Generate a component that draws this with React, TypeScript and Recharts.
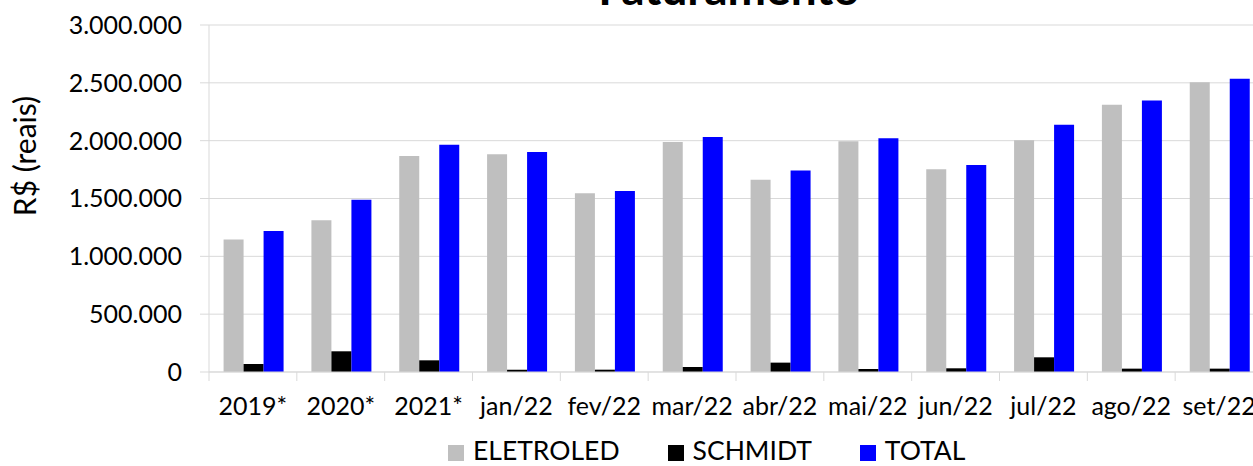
import { BarChart, Bar, XAxis, YAxis, CartesianGrid, Legend } from "recharts";

const categories = ["2019*", "2020*", "2021*", "jan/22", "fev/22", "mar/22", "abr/22", "mai/22", "jun/22", "jul/22", "ago/22", "set/22"];
const eletroled = [1145000, 1311000, 1867000, 1882000, 1545000, 1988000, 1663000, 1994000, 1752000, 2003000, 2311000, 2504000];
const schmidt = [69000, 179000, 101000, 20000, 20000, 43000, 81000, 26000, 32000, 127000, 29000, 29000];
const total = [1220000, 1490000, 1965000, 1901000, 1565000, 2031000, 1741000, 2020000, 1789000, 2138000, 2348000, 2536000];
const yTicks = [0, 500000, 1000000, 1500000, 2000000, 2500000, 3000000];

const data = categories.map((c, i) => ({
  name: c,
  ELETROLED: eletroled[i],
  SCHMIDT: schmidt[i],
  TOTAL: total[i],
}));

const FONT = "Lato, 'Open Sans', sans-serif";
const GRID = "#d9d9d9";

const series = [
  { key: "ELETROLED", color: "#bfbfbf" },
  { key: "SCHMIDT", color: "#000000" },
  { key: "TOTAL", color: "#0000ff" },
];

const fmt = (v: number) => String(v).replace(/\B(?=(\d{3})+(?!\d))/g, ".");

function XTick(props: any) {
  const { x, y, payload } = props;
  const half = payload && payload.offset ? payload.offset : 43.9;
  return (
    <g>
      <line x1={x - half} x2={x - half} y1={y - 9} y2={y} stroke={GRID} />
      <text x={x} y={y + 34} textAnchor="middle" fontSize={25} fontFamily={FONT} fill="#000">
        {payload.value}
      </text>
    </g>
  );
}

function LegendBox() {
  return (
    <div style={{ display: "flex", height: 37, boxSizing: "border-box", paddingTop: 5, fontFamily: FONT, fontSize: 26.5, lineHeight: "32px", color: "#000", whiteSpace: "nowrap" }}>
      {series.map((s, i) => (
        <div key={s.key} style={{ display: "flex", flexShrink: 0, marginLeft: i === 0 ? 0 : 48 }}>
          <div style={{ width: 16, height: 16, marginTop: 11, background: s.color, flexShrink: 0 }} />
          <span style={{ marginLeft: 9 }}>{s.key}</span>
        </div>
      ))}
    </div>
  );
}

export default function App() {
  return (
    <div style={{ position: "absolute", left: 0, top: 0, width: 1253, height: 466, overflow: "hidden", background: "#fff" }}>
      <BarChart
        width={1273}
        height={466}
        data={data}
        margin={{ top: 25, right: 10, left: 0, bottom: 0 }}
        barCategoryGap="16.6%"
        barGap={0}
      >
        <CartesianGrid vertical={false} stroke={GRID} />
        <XAxis
          dataKey="name"
          height={57}
          stroke={GRID}
          tickLine={false}
          tickSize={9}
          tickMargin={0}
          interval={0}
          tick={<XTick />}
        />
        <YAxis
          width={209}
          domain={[0, 3000000]}
          ticks={yTicks}
          tickFormatter={fmt}
          stroke={GRID}
          tickSize={9}
          tickMargin={18}
          tick={{ fill: "#000", fontSize: 25, fontFamily: FONT }}
        />
        <Legend verticalAlign="bottom" wrapperStyle={{ left: 448, width: 580 }} content={<LegendBox />} />
        {series.map((s) => (
          <Bar key={s.key} dataKey={s.key} fill={s.color} isAnimationActive={false} />
        ))}
        <text x={729} y={5} textAnchor="middle" fontSize={46} fontWeight="bold" fontFamily={FONT} fill="#000">
          Faturamento
        </text>
        <text
          x={36}
          y={156}
          transform="rotate(-90 36 156)"
          textAnchor="middle"
          fontSize={30}
          fontFamily={FONT}
          fill="#000"
        >
          R$ (reais)
        </text>
      </BarChart>
    </div>
  );
}
